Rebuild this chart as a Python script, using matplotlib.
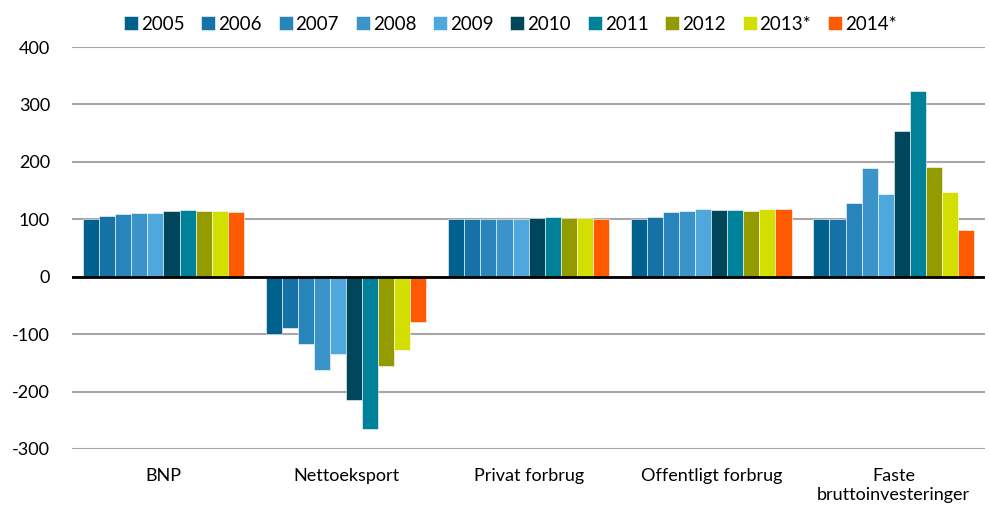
import matplotlib.pyplot as plt
import numpy as np

plt.rcParams['font.family'] = ['Lato', 'DejaVu Sans']
plt.rcParams['axes.unicode_minus'] = False

categories = ['BNP', 'Nettoeksport', 'Privat forbrug', 'Offentligt forbrug',
              'Faste\nbruttoinvesteringer']
years = ['2005', '2006', '2007', '2008', '2009', '2010', '2011', '2012',
         '2013*', '2014*']

bnp = [100, 106, 109, 111, 111, 114, 116, 115, 114, 112]
netto = [-100, -89, -118, -162, -134, -214, -266, -156, -128, -79]
privat = [100, 101, 101, 101, 101, 102, 104, 103, 103, 101]
offentligt = [100, 104, 112, 114, 118, 116, 116, 115, 118, 118]
faste = [100, 100, 129, 189, 144, 253, 323, 191, 148, 81]

colors = ['#00618f', '#1572a6', '#2785bc', '#3a94ca', '#4ea7dd',
          '#00465b', '#00819a', '#939b00', '#d2df00', '#ff5a00']

data = np.array([bnp, netto, privat, offentligt, faste])

fig = plt.figure(figsize=(9.89, 5.14), dpi=100)
ax = fig.add_axes([0.073, 0.1265, 0.923, 0.782])

x = np.arange(len(categories))
w = 0.088
for i, yr in enumerate(years):
    pos = x - 4.5 * w + i * w
    ax.bar(pos, data[:, i], width=w, color=colors[i], label=yr,
           edgecolor='white', linewidth=0.4, zorder=2)

ax.set_xlim(-0.5, 4.5)
ax.set_ylim(-300, 400)
ax.set_yticks(range(-300, 401, 100))
ax.grid(axis='y', color='#a6a6a6', linewidth=1.5, zorder=0)
ax.axhline(0, color='black', linewidth=2, zorder=3)
for s in ax.spines.values():
    s.set_visible(False)
ax.set_xticks(x)
ax.set_xticklabels(categories, fontsize=13)
ax.tick_params(axis='both', length=0, labelsize=13)
ax.tick_params(axis='x', pad=14)
ax.tick_params(axis='y', pad=16)

ax.legend(loc='upper center', bbox_to_anchor=(0.48, 1.12), ncol=10,
          frameon=False, fontsize=13.5, handlelength=0.75, handleheight=0.75,
          handletextpad=0.15, columnspacing=0.9)

fig.savefig('out.png', dpi=100)
